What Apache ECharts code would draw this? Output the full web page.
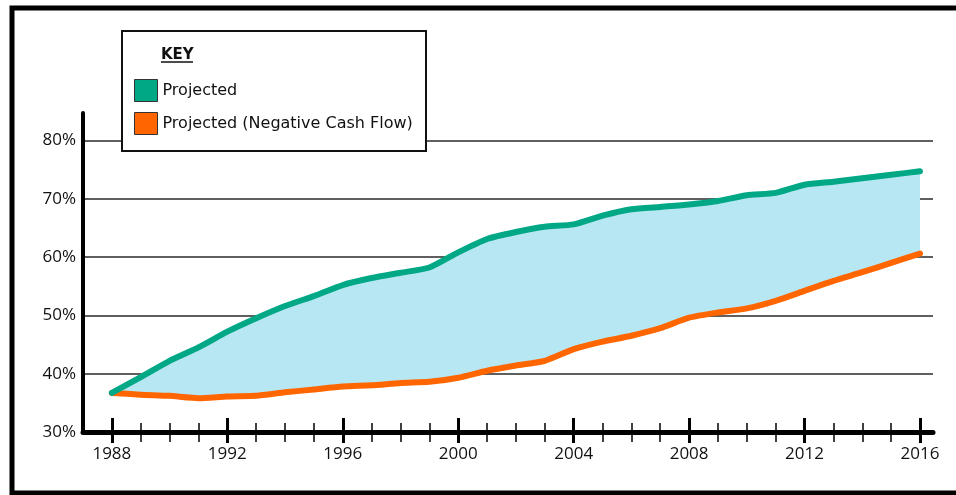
<!DOCTYPE html>
<html>
<head>
<meta charset="utf-8">
<script src="https://cdn.jsdelivr.net/npm/echarts@6/dist/echarts.min.js"></script>
<style>
  html, body { margin: 0; padding: 0; background: #ffffff; }
  #chart { width: 956px; height: 495px; }
</style>
</head>
<body>
<div id="chart"></div>
<script>
// Years on the horizontal axis
var years = [1988, 1989, 1990, 1991, 1992, 1993, 1994, 1995, 1996, 1997,
             1998, 1999, 2000, 2001, 2002, 2003, 2004, 2005, 2006, 2007,
             2008, 2009, 2010, 2011, 2012, 2013, 2014, 2015, 2016];

// Projected share (%)
var projected = [36.7, 39.4, 42.2, 44.5, 47.2, 49.5, 51.6, 53.3, 55.2, 56.4,
                 57.3, 58.2, 60.8, 63.1, 64.3, 65.2, 65.6, 67.1, 68.2, 68.6,
                 69.0, 69.6, 70.6, 71.0, 72.4, 72.9, 73.5, 74.1, 74.7];

// Projected share with negative cash flow (%)
var projectedNegative = [36.7, 36.4, 36.2, 35.8, 36.1, 36.2, 36.8, 37.3, 37.8, 38.0,
                         38.4, 38.6, 39.3, 40.5, 41.4, 42.2, 44.2, 45.5, 46.5, 47.8,
                         49.6, 50.5, 51.2, 52.5, 54.2, 55.9, 57.4, 59.0, 60.6];

// Labelled years and unlabelled yearly ticks
var majorYears = [1988, 1992, 1996, 2000, 2004, 2008, 2012, 2016];
var minorYears = years.filter(function (y) { return majorYears.indexOf(y) < 0; });

var seriesNames = ['Projected', 'Projected (Negative Cash Flow)'];
var GREEN = '#00a886';
var ORANGE = '#ff6600';
var BAND = '#b8e7f4';

// Gap between the two projections, stacked on top of the lower one
var bandSpan = years.map(function (y, i) {
  return +(projected[i] - projectedNegative[i]).toFixed(2);
});

var labelFont = { fontFamily: 'Open Sans', fontSize: 17, color: '#111' };

// Axis frame: value scale from 1987 to a little past 2016
var X_MIN = 1987, X_MAX = 2016.45;
var Y_MIN = 30, Y_MAX = 84.7;
var PLOT_LEFT = 83, PLOT_RIGHT = 23, PLOT_TOP = 113, PLOT_BOTTOM = 63;
var chartWidth = 956;
var plotWidth = chartWidth - PLOT_LEFT - PLOT_RIGHT;
var perYear = plotWidth / (X_MAX - X_MIN);
// Data grid spans exactly first..last year on the same scale
var dataLeft = PLOT_LEFT + (years[0] - X_MIN) * perYear;
var dataRight = chartWidth - (PLOT_LEFT + (years[years.length - 1] - X_MIN) * perYear);

var chart = echarts.init(document.getElementById('chart'), null, { renderer: 'canvas' });

chart.setOption({
  backgroundColor: '#ffffff',
  animation: false,
  grid: [
    { left: PLOT_LEFT, right: PLOT_RIGHT, top: PLOT_TOP, bottom: PLOT_BOTTOM, containLabel: false },
    { left: dataLeft, right: dataRight, top: PLOT_TOP, bottom: PLOT_BOTTOM, containLabel: false }
  ],
  xAxis: [
    {
      type: 'value', gridIndex: 0, min: X_MIN, max: X_MAX, position: 'bottom',
      axisLine: { show: true, lineStyle: { color: '#000', width: 5 } },
      axisTick: { show: false },
      axisLabel: Object.assign({ customValues: majorYears, margin: 14,
        formatter: function (v) { return String(v); } }, labelFont),
      splitLine: { show: false }
    },
    {
      type: 'value', gridIndex: 0, min: X_MIN, max: X_MAX, position: 'bottom', offset: -9,
      axisLine: { show: false },
      axisTick: { show: true, customValues: minorYears, length: 19,
        lineStyle: { color: '#000', width: 1.5 } },
      axisLabel: { show: false },
      splitLine: { show: false }
    },
    {
      type: 'value', gridIndex: 0, min: X_MIN, max: X_MAX, position: 'bottom', offset: -14,
      axisLine: { show: false },
      axisTick: { show: true, customValues: majorYears, length: 25,
        lineStyle: { color: '#000', width: 3 } },
      axisLabel: { show: false },
      splitLine: { show: false }
    },
    {
      type: 'category', gridIndex: 1, data: years, boundaryGap: false, show: false
    }
  ],
  yAxis: [
    {
      type: 'value', gridIndex: 0, min: Y_MIN, max: Y_MAX, interval: 10,
      axisLine: { show: true, lineStyle: { color: '#000', width: 4 } },
      axisTick: { show: false },
      axisLabel: Object.assign({ margin: 7, showMaxLabel: false,
        formatter: '{value}%' }, labelFont),
      splitLine: { show: true, showMaxLine: false,
        lineStyle: { color: '#2a2a2a', width: 1.5 } }
    },
    {
      type: 'value', gridIndex: 1, min: Y_MIN, max: Y_MAX, show: false,
      splitLine: { show: false }
    }
  ],
  legend: {
    data: seriesNames,
    orient: 'vertical',
    left: 134, top: 79, padding: 0,
    itemWidth: 23, itemHeight: 22, itemGap: 10,
    icon: 'rect',
    itemStyle: { borderColor: '#333', borderWidth: 1 },
    textStyle: { fontFamily: 'DejaVu Sans', fontSize: 16, color: '#111' },
    z: 20
  },
  graphic: [
    {
      type: 'rect', z: 0, silent: true,
      shape: { x: 12, y: 8, width: 1000, height: 485 },
      style: { fill: null, stroke: '#000', lineWidth: 5 }
    },
    {
      type: 'rect', z: 15, silent: true,
      shape: { x: 122, y: 31, width: 304, height: 120 },
      style: { fill: '#fff', stroke: '#111', lineWidth: 2 }
    },
    {
      type: 'text', z: 16, silent: true, x: 161, y: 55,
      style: { text: 'KEY', fill: '#111', font: 'bold 15px "DejaVu Sans"',
        textVerticalAlign: 'middle' }
    },
    {
      type: 'line', z: 16, silent: true,
      shape: { x1: 161, y1: 62, x2: 193, y2: 62 },
      style: { stroke: '#111', lineWidth: 1.5 }
    }
  ],
  series: [
    {
      name: 'band-base', type: 'line', stack: 'band', data: projectedNegative,
      xAxisIndex: 3, yAxisIndex: 1, clip: false,
      symbol: 'none', smooth: 0.2, silent: true, z: 1,
      lineStyle: { opacity: 0 }, areaStyle: { opacity: 0 }
    },
    {
      name: 'band-span', type: 'line', stack: 'band', data: bandSpan,
      xAxisIndex: 3, yAxisIndex: 1, clip: false,
      symbol: 'none', smooth: 0.2, silent: true, z: 1,
      lineStyle: { opacity: 0 }, areaStyle: { color: BAND, opacity: 1 }
    },
    {
      name: seriesNames[1], type: 'line', data: projectedNegative,
      xAxisIndex: 3, yAxisIndex: 1, clip: false,
      symbol: 'none', smooth: 0.2, z: 3,
      itemStyle: { color: ORANGE },
      lineStyle: { color: ORANGE, width: 6, cap: 'round', join: 'round' }
    },
    {
      name: seriesNames[0], type: 'line', data: projected,
      xAxisIndex: 3, yAxisIndex: 1, clip: false,
      symbol: 'none', smooth: 0.2, z: 4,
      itemStyle: { color: GREEN },
      lineStyle: { color: GREEN, width: 6, cap: 'round', join: 'round' }
    }
  ]
});
</script>
</body>
</html>
